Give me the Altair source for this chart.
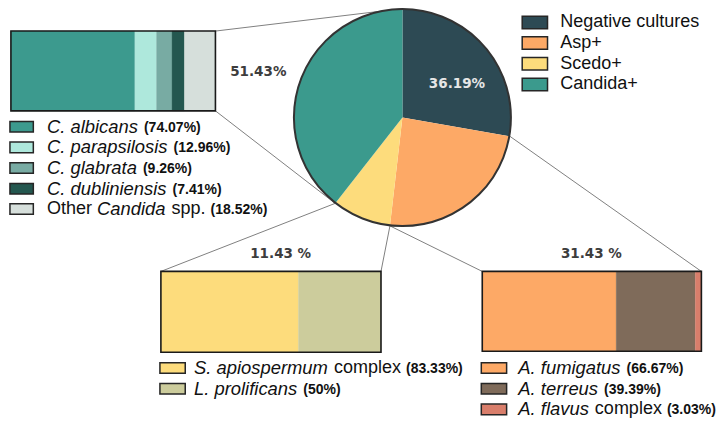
import math
import altair as alt
import pandas as pd

# ---------------- data ----------------
main_cats = ["Negative cultures", "Asp+", "Scedo+", "Candida+"]
main_pct = [36.19, 31.43, 11.43, 51.43]
main_labels = ["36.19%", "31.43 %", "11.43 %", "51.43%"]
main_colors = ["#2d4a54", "#fda966", "#fddc7c", "#3b9a8d"]

cand_names = ["C. albicans", "C. parapsilosis", "C. glabrata", "C. dubliniensis", "Other Candida spp."]
cand_pct = [74.07, 12.96, 9.26, 7.41, 18.52]
cand_pct_lbl = ["(74.07%)", "(12.96%)", "(9.26%)", "(7.41%)", "(18.52%)"]
cand_colors = ["#3c9a8e", "#aee8dc", "#78aba3", "#24574f", "#d6dfdb"]

scedo_names = ["S. apiospermum complex", "L. prolificans"]
scedo_pct = [83.33, 50.0]
scedo_pct_lbl = ["(83.33%)", "(50%)"]
scedo_colors = ["#fddc7c", "#cccc9c"]

asp_names = ["A. fumigatus", "A. terreus", "A. flavus complex"]
asp_pct = [66.67, 39.39, 3.03]
asp_pct_lbl = ["(66.67%)", "(39.39%)", "(3.03%)"]
asp_colors = ["#fda966", "#7f6b5a", "#d97e6b"]

# legend rows as styled pieces: it = italic, reg = regular, b = bold percentage
cand_pieces = [
    [("it", "C. albicans"), ("b", cand_pct_lbl[0])],
    [("it", "C. parapsilosis"), ("b", cand_pct_lbl[1])],
    [("it", "C. glabrata"), ("b", cand_pct_lbl[2])],
    [("it", "C. dubliniensis"), ("b", cand_pct_lbl[3])],
    [("reg", "Other"), ("it", "Candida"), ("reg", "spp."), ("b", cand_pct_lbl[4])],
]
scedo_pieces = [
    [("it", "S. apiospermum"), ("reg", "complex"), ("b", scedo_pct_lbl[0])],
    [("it", "L. prolificans"), ("b", scedo_pct_lbl[1])],
]
asp_pieces = [
    [("it", "A. fumigatus"), ("b", asp_pct_lbl[0])],
    [("it", "A. terreus"), ("b", asp_pct_lbl[1])],
    [("it", "A. flavus"), ("reg", "complex"), ("b", asp_pct_lbl[2])],
]

# ---------------- layout ----------------
W, H = 708, 411
RX0, RX1 = -1, 726
RY0, RY1 = 0, 427.5
KX = W / (RX1 - RX0)
KY = H / (RY1 - RY0)


def X(v):
    return (v - RX0) * KX


def Y(v):
    return (v - RY0) * KY


CX, CY = X(404), Y(114)
R = 108.5

xs = alt.Scale(domain=[0, W], nice=False, zero=False)
ys = alt.Scale(domain=[0, H], nice=False, zero=False, reverse=True)

LEG_FONT = "Liberation Sans"
SIZES = {"reg": 18, "it": 18.4, "b": 14}
GAPS = {"reg": 5, "it": 6, "b": 4}

# approximate Liberation Sans advance widths (em/1000) to chain styled pieces
AW = {" ": 278, ".": 278, "(": 333, ")": 333, "%": 889, "+": 584,
      "A": 667, "C": 722, "L": 556, "N": 722, "O": 778, "S": 667,
      "a": 556, "b": 556, "c": 500, "d": 556, "e": 556, "f": 278, "g": 556, "h": 556,
      "i": 222, "l": 222, "m": 833, "n": 556, "o": 556, "p": 556, "r": 333, "s": 500,
      "t": 278, "u": 556, "v": 500, "x": 500, "y": 500}


def text_w(s, style):
    return sum(AW.get(ch, 556) for ch in s) / 1000 * SIZES[style]


# pie boundary points
tot = sum(main_pct)
cum = [0.0]
for v in main_pct:
    cum.append(cum[-1] + v)
angles = [c / tot * 2 * math.pi for c in cum]


def P(i):
    a = angles[i]
    return CX + (R + 0.5) * math.sin(a), CY - (R + 0.5) * math.cos(a)


# bars (ref coords)
bars = {
    "cand": (2, 212, 24, 107, cand_pct, cand_colors),
    "scedo": (156, 382, 274, 358, scedo_pct, scedo_colors),
    "asp": (486, 711, 274, 357, asp_pct, asp_colors),
}
seg_rows, outline_rows = [], []
for key, (l, r, t, b, vals, cols) in bars.items():
    s = sum(vals)
    acc = 0.0
    for v, c in zip(vals, cols):
        x0 = X(l) + (X(r) - X(l)) * acc / s
        acc += v
        x1 = X(l) + (X(r) - X(l)) * acc / s
        seg_rows.append({"x": x0, "x2": x1, "y": Y(t), "y2": Y(b), "c": c})
    outline_rows.append({"x": X(l), "x2": X(r), "y": Y(t), "y2": Y(b)})
seg_df = pd.DataFrame(seg_rows)
outline_df = pd.DataFrame(outline_rows)

# connecting lines
links = [((212, 24), 0), ((212, 107), 3), ((156, 274), 3), ((382, 274), 2), ((486, 274), 2), ((711, 274), 1)]
line_rows = []
for (bx, by), i in links:
    px, py = P(i)
    line_rows.append({"x": X(bx), "y": Y(by), "x2": px, "y2": py})
line_df = pd.DataFrame(line_rows)

# legend patches
patch_rows = []
main_rows_y = [15, 36.5, 58, 79.5]
for yy, c in zip(main_rows_y, main_colors):
    patch_rows.append({"x": X(527), "x2": X(553), "y": Y(yy - 6.5), "y2": Y(yy + 6.5), "c": c})
cand_rows_y = [123.5, 145, 166.5, 188, 209]
for yy, c in zip(cand_rows_y, cand_colors):
    patch_rows.append({"x": X(1), "x2": X(25), "y": Y(yy - 5.5), "y2": Y(yy + 5.5), "c": c})
sub_rows_y = [374.5, 396, 417.5]
for yy, c in zip(sub_rows_y, scedo_colors):
    patch_rows.append({"x": X(155), "x2": X(181), "y": Y(yy - 5.5), "y2": Y(yy + 5.5), "c": c})
for yy, c in zip(sub_rows_y, asp_colors):
    patch_rows.append({"x": X(485), "x2": X(511), "y": Y(yy - 5.5), "y2": Y(yy + 5.5), "c": c})
patch_df = pd.DataFrame(patch_rows)

# legend texts
txt_rows = []
for name, yy in zip(main_cats, main_rows_y):
    txt_rows.append({"t": name, "x": X(566), "y": Y(yy), "s": "reg"})


def chain(rows, x_start, ys_):
    for pieces, yy in zip(rows, ys_):
        x = X(x_start)
        for style, s in pieces:
            txt_rows.append({"t": s, "x": x, "y": Y(yy), "s": style})
            x += text_w(s, style) + GAPS[style]


chain(cand_pieces, 39, cand_rows_y)
chain(scedo_pieces, 190, sub_rows_y)
chain(asp_pieces, 523, sub_rows_y)
txt_df = pd.DataFrame(txt_rows)

# number labels
num_pos = {"36.19%": (460, 79), "31.43 %": (598, 256), "11.43 %": (279, 256), "51.43%": (256, 67)}
num_df = pd.DataFrame([{"t": lab, "x": X(num_pos[lab][0]), "y": Y(num_pos[lab][1]),
                        "light": lab == "36.19%"} for lab in main_labels])


# ---------------- charts ----------------
def enc_xy(ch):
    return ch.encode(x=alt.X("x:Q", scale=xs, axis=None), y=alt.Y("y:Q", scale=ys, axis=None))


lines = alt.Chart(line_df).mark_rule(color="#808080", strokeWidth=1).encode(
    x=alt.X("x:Q", scale=xs, axis=None), y=alt.Y("y:Q", scale=ys, axis=None), x2="x2:Q", y2="y2:Q")

pie_df = pd.DataFrame({"cat": main_cats, "v": main_pct, "o": list(range(4)), "c": main_colors})
pie = alt.Chart(pie_df).mark_arc(radius=R).encode(
    theta=alt.Theta("v:Q", stack=True),
    order=alt.Order("o:Q"),
    color=alt.Color("c:N", scale=None),
    x=alt.value(CX), y=alt.value(CY))
pie_outline = alt.Chart(pie_df.head(1)).mark_arc(
    radius=R, theta=0, theta2=2 * math.pi, fillOpacity=0, stroke="#333333", strokeWidth=2
).encode(x=alt.value(CX), y=alt.value(CY))

segs = alt.Chart(seg_df).mark_rect(strokeWidth=0.3).encode(
    x=alt.X("x:Q", scale=xs, axis=None), x2="x2:Q",
    y=alt.Y("y:Q", scale=ys, axis=None), y2="y2:Q",
    color=alt.Color("c:N", scale=None), stroke=alt.Stroke("c:N", scale=None))
outlines = alt.Chart(outline_df).mark_rect(fillOpacity=0, stroke="#1a1a1a", strokeWidth=1.6).encode(
    x=alt.X("x:Q", scale=xs, axis=None), x2="x2:Q",
    y=alt.Y("y:Q", scale=ys, axis=None), y2="y2:Q")
patches = alt.Chart(patch_df).mark_rect(stroke="#262626", strokeWidth=1.5).encode(
    x=alt.X("x:Q", scale=xs, axis=None), x2="x2:Q",
    y=alt.Y("y:Q", scale=ys, axis=None), y2="y2:Q",
    color=alt.Color("c:N", scale=None))

t_reg = enc_xy(alt.Chart(txt_df[txt_df.s == "reg"]).mark_text(
    align="left", baseline="middle", font=LEG_FONT, fontSize=SIZES["reg"], color="#111111")).encode(text="t:N")
t_it = enc_xy(alt.Chart(txt_df[txt_df.s == "it"]).mark_text(
    align="left", baseline="middle", font=LEG_FONT, fontSize=SIZES["it"], fontStyle="italic",
    color="#111111")).encode(text="t:N")
t_bold = enc_xy(alt.Chart(txt_df[txt_df.s == "b"]).mark_text(
    align="left", baseline="middle", font=LEG_FONT, fontSize=SIZES["b"], fontWeight="bold",
    color="#111111", dy=1)).encode(text="t:N")

n_dark = enc_xy(alt.Chart(num_df[~num_df.light]).mark_text(
    align="center", baseline="middle", font="DejaVu Sans", fontSize=13.5, fontWeight="bold",
    color="#3d3d3d")).encode(text="t:N")
n_light = enc_xy(alt.Chart(num_df[num_df.light]).mark_text(
    align="center", baseline="middle", font="DejaVu Sans", fontSize=13.5, fontWeight="bold",
    color="#e6e6e6")).encode(text="t:N")

chart = alt.layer(
    lines, pie, pie_outline, segs, outlines, patches, t_reg, t_it, t_bold, n_dark, n_light
).properties(
    width=W, height=H, padding=0, autosize=alt.AutoSizeParams(type="none"), background="white"
).configure_view(strokeWidth=0)

chart.save("out.html", embed_options={"renderer": "svg", "actions": False})
